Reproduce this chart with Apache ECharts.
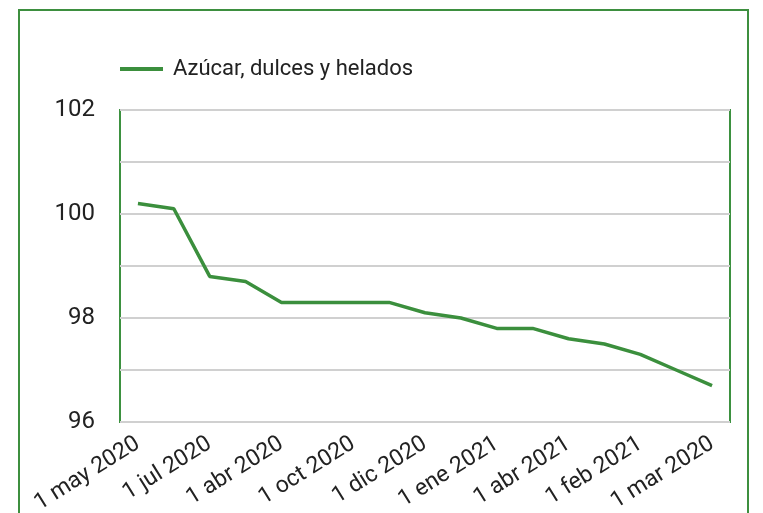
<!DOCTYPE html>
<html>
	<head>
		<meta charset="utf-8" />
		<script src="https://cdn.jsdelivr.net/npm/echarts@6/dist/echarts.min.js"></script>
		<style>
			html, body { margin: 0; padding: 0; background: #fff; overflow: hidden; }
			#frame { position: absolute; left: 18px; top: 9px; width: 731px; height: 600px; border: 2px solid #3d8f3f; box-sizing: border-box; }
			#chart { position: absolute; left: 0; top: 0; width: 763px; height: 513px; }
		</style>
	</head>
	<body>
		<div id="frame"></div>
		<div id="chart"></div>
		<script>
			var seriesName = "Azúcar, dulces y helados";
			var fechas = ["1 may 2020", "1 jun 2020", "1 jul 2020", "1 ago 2020", "1 abr 2020", "1 sep 2020",
				"1 oct 2020", "1 nov 2020", "1 dic 2020", "15 dic 2020", "1 ene 2021", "1 mar 2021",
				"1 abr 2021", "1 ene 2021 ", "1 feb 2021", "15 feb 2021", "1 mar 2020"];
			var valores = [100.2, 100.1, 98.8, 98.7, 98.3, 98.3, 98.3, 98.3, 98.1, 98.0, 97.8, 97.8, 97.6, 97.5, 97.3, 97.0, 96.7];
			var yMin = 96, yMax = 102, yStep = 1;

			var chart = echarts.init(document.getElementById("chart"));
			var option = {
				animation: false,
				textStyle: { fontFamily: "Roboto" },
				legend: {
					left: 115,
					top: 53,
					icon: "rect",
					itemWidth: 43,
					itemHeight: 4,
					data: [seriesName],
					textStyle: { fontSize: 22, color: "#222", padding: [0, 0, 0, 5] }
				},
				grid: {
					left: 120, right: 33, top: 110, bottom: 91,
					outerBoundsMode: "none",
					containLabel: false,
					show: true, borderColor: "#3d9140", borderWidth: 2
				},
				xAxis: {
					type: "category",
					data: fechas,
					boundaryGap: true,
					axisLine: { show: false },
					axisTick: { show: false },
					axisLabel: { interval: 1, rotate: 32, fontSize: 23, color: "#222", margin: 20 }
				},
				yAxis: {
					type: "value",
					min: yMin, max: yMax, interval: yStep,
					axisLine: { show: false },
					axisTick: { show: false },
					axisLabel: {
						fontSize: 24, color: "#222", margin: 25,
						formatter: function(v) { return v % 2 === 0 ? String(v) : ""; }
					},
					splitLine: { lineStyle: { color: "#d0d0d0", width: 2 } }
				},
				series: [{
					name: seriesName,
					type: "line",
					data: valores,
					showSymbol: false,
					symbol: "none",
					lineStyle: { color: "#3b8f3d", width: 3.5 },
					itemStyle: { color: "#3b8f3d" }
				}]
			};
			chart.setOption(option);
		</script>
	</body>
</html>
